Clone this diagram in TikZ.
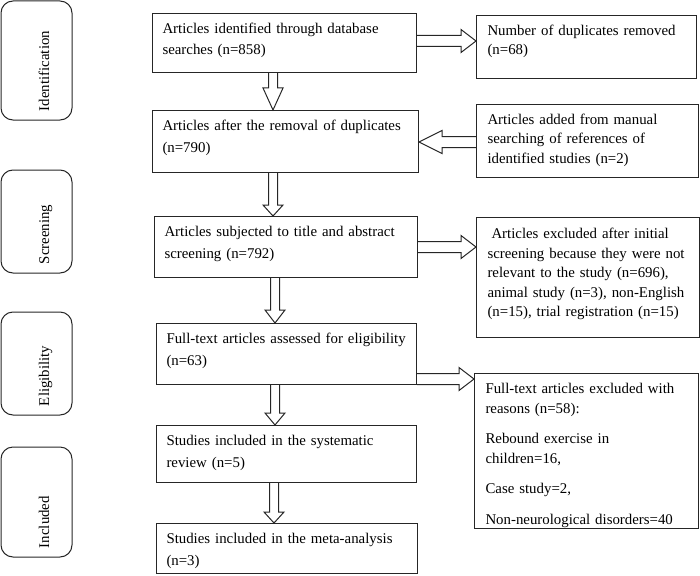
\documentclass[tikz,border=0pt]{standalone}
\usepackage{fontspec}
\setmainfont{Liberation Serif}
\usetikzlibrary{calc}
\tikzset{stage/.style = {draw = black!85, line width = 1pt, anchor = north west,
                         inner xsep = 10pt, inner ysep = 0pt, align = left,
                         text height = 20pt, font = \fontsize{14.85}{21.5}\selectfont}}
\tikzset{note/.style = {stage, inner xsep = 11pt, font = \fontsize{14.85}{19.5}\selectfont}}
\tikzset{phase/.style = {draw = black!85, line width = 1pt, rounded corners = 12pt,
                         rotate = 90, inner xsep = 9pt, inner ysep = 0pt, align = left,
                         text height = 48pt, text depth = 23pt, font = \fontsize{14.85}{18}\selectfont}}
\tikzset{block/.style = {draw = black!85, line width = 1pt}}
% hollow arrow, sideways: start anchor, tip anchor, y, head length (signed)
\newcommand{\hblock}[4]{%
  \draw [block] ($(#1 |- 0,#3)+(0,-5.5)$) -- ($(#2 |- 0,#3)+(#4,-5.5)$) -- ($(#2 |- 0,#3)+(#4,-11.5)$)
    -- (#2 |- 0,#3) -- ($(#2 |- 0,#3)+(#4,11.5)$) -- ($(#2 |- 0,#3)+(#4,5.5)$) -- ($(#1 |- 0,#3)+(0,5.5)$);}
% hollow arrow, downwards: start anchor, tip anchor, x, head length
\newcommand{\vblock}[4]{%
  \draw [block] ($(#1 -| #3,0)+(-4.5,0)$) -- ($(#2 -| #3,0)+(-4.5,-#4)$) -- ($(#2 -| #3,0)+(-10,-#4)$)
    -- (#2 -| #3,0) -- ($(#2 -| #3,0)+(10,-#4)$) -- ($(#2 -| #3,0)+(4.5,-#4)$) -- ($(#1 -| #3,0)+(4.5,0)$);}

\begin{document}
\begin{tikzpicture}[x = 1pt, y = -1pt]
  \useasboundingbox (0, 0) rectangle (700, 575);
  % phases
  \node [phase, text width = 101pt] (ident) at (36.5, 60.5) {Identification};
  \node [phase, text width = 85pt] (screen) at (36.5, 221.5) {Screening};
  \node [phase, text width = 85pt] (elig) at (36.5, 363.5) {Eligibility};
  \node [phase, text width = 92pt] (incl) at (36.5, 502) {Included};
  % main column
  \node [stage, text width = 244pt, text depth = 39pt] (found) at (152, 13)
    {Articles identified through database\\searches (n=858)};
  \node [stage, text width = 246pt, text depth = 42pt] (dedup) at (152, 110)
    {Articles after the removal of duplicates\\(n=790)};
  \node [stage, text width = 243pt, text depth = 41pt] (screened) at (154, 216)
    {Articles subjected to title and abstract\\screening (n=792)};
  \node [stage, text width = 240pt, text depth = 41pt] (assessed) at (156, 323)
    {\mbox{Full-text articles assessed for eligibility}\\(n=63)};
  \node [stage, text width = 240pt, text depth = 37pt] (review) at (156, 425)
    {Studies included in the systematic\\review (n=5)};
  \node [stage, text width = 241pt, text depth = 30pt] (meta) at (156, 523)
    {Studies included in the meta-analysis\\(n=3)};
  % side column
  \node [note, text width = 198pt, text depth = 43pt] (dupes) at (476, 15)
    {Number of duplicates removed\\(n=68)};
  \node [note, text width = 200pt, text depth = 53pt] (manual) at (476, 104)
    {Articles added from manual\\searching of references of\\identified studies (n=2)};
  \node [note, text width = 201pt, text height = 21pt, text depth = 99pt] (excluded) at (476, 217)
    {\hspace*{4pt}Articles excluded after initial\\screening because they were not\\relevant to the study (n=696),\\animal study (n=3), non-English\\(n=15), trial registration (n=15)};
  \node [note, text width = 202pt, text depth = 135pt] (fulltext) at (474, 373)
    {Full-text articles excluded with\\reasons (n=58):\\[11pt]Rebound exercise in\\children=16,\\[11pt]Case study=2,\\[11pt]Non-neurological disorders=40};
  % arrows
  \hblock{found.east}{dupes.west}{41}{-15}
  \hblock{manual.west}{dedup.east}{142}{23}
  \hblock{screened.east}{excluded.west}{247}{-15}
  \hblock{assessed.east}{fulltext.west}{379}{-15}
  \vblock{found.south}{dedup.north}{273}{22}
  \vblock{dedup.south}{screened.north}{273}{11}
  \vblock{screened.south}{assessed.north}{275}{13}
  \vblock{assessed.south}{review.north}{275}{12}
  \vblock{review.south}{meta.north}{274}{11}
\end{tikzpicture}
\end{document}
